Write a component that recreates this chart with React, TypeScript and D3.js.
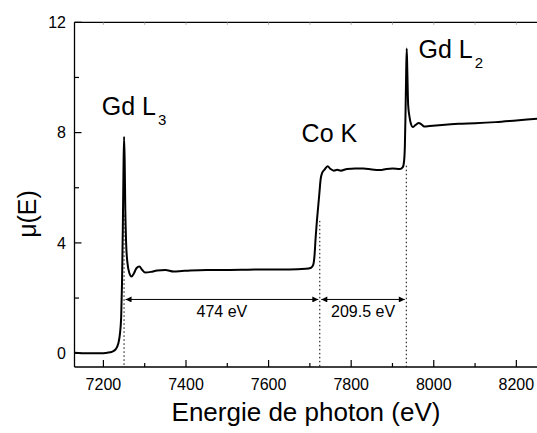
import * as d3 from "d3";

// spectrum (energy in eV, mu(E))
const energy = [
  7130, 7160, 7190, 7210, 7222, 7230, 7236, 7240, 7243, 7245, 7247, 7248.5, 7250, 7251.5, 7253, 7255, 7258,
  7263, 7268, 7274, 7280, 7287, 7294, 7301, 7315, 7330, 7350, 7370, 7390, 7410, 7450, 7500, 7550, 7600,
  7650, 7690, 7703, 7708, 7711, 7714, 7717, 7720, 7723, 7726, 7730, 7735, 7743, 7750, 7758, 7766, 7775,
  7790, 7810, 7830, 7850, 7870, 7885, 7900, 7918, 7925, 7928, 7930, 7931.5, 7933, 7934.5, 7936, 7938,
  7941, 7945, 7949, 7956, 7964, 7970, 7977, 7990, 8020, 8060, 8100, 8150, 8200, 8250,
];
const mu = [
  0.02, 0.0, 0.0, 0.02, 0.06, 0.15, 0.35, 0.7, 1.3, 2.5, 4.5, 6.5, 7.85, 7.0, 5.2, 4.0, 3.3,
  2.9, 2.78, 2.9, 3.08, 3.14, 3.02, 2.93, 2.95, 3.0, 3.02, 2.96, 2.98, 3.0, 3.02, 3.02, 3.03, 3.04,
  3.04, 3.06, 3.1, 3.2, 3.5, 4.2, 4.8, 5.3, 5.8, 6.3, 6.55, 6.65, 6.78, 6.68, 6.62, 6.65, 6.62,
  6.68, 6.7, 6.7, 6.66, 6.64, 6.68, 6.7, 6.68, 6.75, 6.95, 7.5, 8.6, 10.0, 11.05, 10.2, 9.0,
  8.6, 8.3, 8.2, 8.28, 8.35, 8.3, 8.22, 8.24, 8.28, 8.32, 8.34, 8.38, 8.44, 8.5,
];

const xMajor = [7200, 7400, 7600, 7800, 8000, 8200];
const xMinor = [7300, 7500, 7700, 7900, 8100];
const xTop = [7200, 7300, 7400, 7500, 7600, 7700, 7800, 7900, 8000, 8100, 8200];
const yMajor = [0, 4, 8, 12];
const yMinor = [2, 6, 10];

// edge positions and the distances between them
const edgeE = [7250, 7724, 7933.5];
const edgeTop = [5.0, 4.8, 6.8];
const gapLabels = ["474 eV", "209.5 eV"];
const arrowY = 1.95;

// edge labels: start of text (eV) and baseline (mu)
const labelNames = ["Gd L", "Co K", "Gd L"];
const labelSubs = ["3", "", "2"];
const labelE = [7196, 7680, 7963];
const labelMu = [8.64, 7.67, 10.69];

const FONT = "'Liberation Sans', Arial, Helvetica, sans-serif";

export default function App() {
  const W = 537;
  const H = 433;
  const x = d3.scaleLinear().domain([7130, 8250]).range([74.5, 537]);
  const y = d3.scaleLinear().domain([-0.5, 12]).range([367, 22.3]);
  const left = x.range()[0];
  const right = 539;
  const top = y.range()[1];
  const bottom = y.range()[0];

  const pts = energy.map((e, i) => [e, mu[i]] as [number, number]);
  const path = d3
    .line<[number, number]>()
    .x((d) => x(d[0]))
    .y((d) => y(d[1]))
    .curve(d3.curveMonotoneX)(pts) ?? undefined;

  const ay = y(arrowY);

  return (
    <svg
      width={W}
      height={H}
      style={{ position: "absolute", left: 0, top: 0, background: "#fff" }}
      fontFamily={FONT}
    >
      <defs>
        <marker id="ah" viewBox="0 0 10 10" refX="10" refY="5" markerWidth="8" markerHeight="6" orient="auto-start-reverse" markerUnits="userSpaceOnUse">
          <path d="M0,0 L10,5 L0,10 z" fill="#000" />
        </marker>
      </defs>

      {/* frame */}
      <line x1={left} x2={right} y1={top} y2={top} stroke="#000" strokeWidth={1.3} />
      <line x1={left} x2={left} y1={top} y2={bottom} stroke="#000" strokeWidth={1.3} />
      <line x1={left} x2={right} y1={bottom} y2={bottom} stroke="#000" strokeWidth={1.3} />

      {/* x ticks */}
      {xMajor.map((t) => (
        <g key={"xm" + t}>
          <line x1={x(t)} x2={x(t)} y1={bottom} y2={bottom - 7} stroke="#000" strokeWidth={1.2} />
          <text x={x(t)} y={390} fontSize={16} textAnchor="middle">{t}</text>
        </g>
      ))}
      {xMinor.map((t) => (
        <line key={"xn" + t} x1={x(t)} x2={x(t)} y1={bottom} y2={bottom - 4} stroke="#000" strokeWidth={1.2} />
      ))}
      {xTop.map((t) => (
        <line key={"xt" + t} x1={x(t)} x2={x(t)} y1={top} y2={top + 2.5} stroke="#999" strokeWidth={0.8} />
      ))}

      {/* y ticks */}
      {yMajor.map((t) => (
        <g key={"ym" + t}>
          <line x1={left} x2={left + 7} y1={y(t)} y2={y(t)} stroke="#000" strokeWidth={1.2} />
          <text x={66} y={y(t)} dy="0.35em" fontSize={16} textAnchor="end">{t}</text>
        </g>
      ))}
      {yMinor.map((t) => (
        <line key={"yn" + t} x1={left} x2={left + 4.5} y1={y(t)} y2={y(t)} stroke="#000" strokeWidth={1.2} />
      ))}

      {/* axis titles */}
      <text x={306} y={421} fontSize={26} textAnchor="middle">Energie de photon (eV)</text>
      <text transform="translate(36,214) rotate(-90)" fontSize={25} textAnchor="middle">μ(E)</text>

      {/* dotted edge markers */}
      {edgeE.map((e, i) => (
        <line key={"d" + e} x1={x(e)} x2={x(e)} y1={y(edgeTop[i])} y2={bottom} stroke="#000" strokeWidth={1} strokeDasharray="1.5,2.5" />
      ))}

      {/* distance arrows */}
      {gapLabels.map((lab, i) => {
        const x1 = x(edgeE[i]) + 1.5;
        const x2 = x(edgeE[i + 1]) - 1.5;
        return (
          <g key={lab}>
            <line x1={x1} x2={x2} y1={ay} y2={ay} stroke="#000" strokeWidth={1} markerStart="url(#ah)" markerEnd="url(#ah)" />
            <text x={(x1 + x2) / 2} y={316.7} fontSize={16} textAnchor="middle">{lab}</text>
          </g>
        );
      })}

      {/* spectrum */}
      <path d={path} fill="none" stroke="#000" strokeWidth={2} strokeLinejoin="round" />

      {/* edge labels */}
      {labelNames.map((name, i) => (
        <text key={"lab" + i} x={x(labelE[i])} y={y(labelMu[i])} fontSize={25}>
          {name}
          {labelSubs[i] && (
            <tspan fontSize={15} dx={2} dy={10}>{labelSubs[i]}</tspan>
          )}
        </text>
      ))}
    </svg>
  );
}
